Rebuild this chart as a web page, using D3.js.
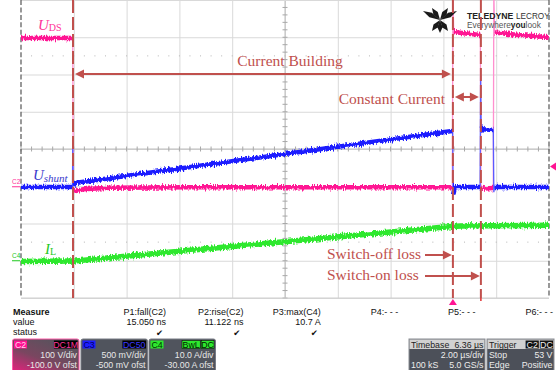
<!DOCTYPE html>
<html>
<head>
<meta charset="utf-8">
<script src="https://cdn.jsdelivr.net/npm/d3@7"></script>
<style>
  html, body { margin: 0; padding: 0; background: #ffffff; }
  svg { display: block; }
</style>
</head>
<body>
<svg id="scope" width="557" height="370"></svg>
<script>
// ---- Acquisition settings ----
const timeDomainUs = [-16.36, 3.64];   // 10 div x 2 µs/div, trigger 6.36 µs right of centre
const usPerDiv = 2;
const hDivs = 10, vDivs = 8;

// Channel vertical settings
const chNames   = ["C2", "C3", "C4"];
const chScale   = [100, 0.5, 10];       // units per division
const chOffset  = [-100, -0.5, -30];    // offset (centre value = -offset)
const chColors  = ["#ff1493", "#1e1eff", "#2ee82e"];
const chEdge    = ["#ff8fcf", "#5a5aff", "#7cf07c"];
const chDivText = ["100 V/div", "500 mV/div", "10.0 A/div"];
const chOfsText = ["-100.0 V ofst", "-500 mV ofst", "-30.00 A ofst"];
const chCoupling = [["DC1M"], ["DC50"], ["BwL", "DC"]];

// U_DS on C2 (V)
const udsTime = [-16.36, -14.40, -14.38, -14.00, -13.00, -10.00, -0.02, 0.00, 0.03, 0.50, 1.04, 1.06, 1.20, 1.53, 1.55, 1.58, 2.50, 3.64];
const udsVolt = [398, 398, -14, -8, -4, -3, -3, 520, 414, 410, 406, -4, -6, -5, 520, 413, 406, 400];

// U_shunt on C3 (V)
const shuntTime = [-16.36, -14.41, -14.40, -14.38, -14.30, -10.34, -6.36, -2.38, -0.03, -0.01, 0.01, 0.07, 1.03, 1.05, 1.07, 1.15, 1.53, 1.55, 1.58, 3.64];
const shuntVolt = [-0.01, -0.01, 0.58, 0.02, 0.045, 0.238, 0.433, 0.627, 0.742, 0.74, -0.11, -0.01, -0.01, 1.49, 0.80, 0.765, 0.755, -0.08, -0.01, -0.01];

// I_L on C4 (A)
const ilTime = [-16.36, -14.36, -12.40, -8.40, -4.40, -0.40, 0.30, 1.50, 3.64];
const ilAmp  = [-0.2, -0.1, 1.2, 3.8, 6.4, 9.0, 9.35, 9.4, 9.5];

// Switching events (µs): turn-on, turn-off, second turn-on
const eventTimes = [-14.39, 0, 1.06];
const triggerLevelV = 53;

// Measurement panel
const measureNames  = ["P1:fall(C2)", "P2:rise(C2)", "P3:max(C4)", "P4:- - -", "P5:- - -", "P6:- - -"];
const measureValues = ["15.050 ns", "11.122 ns", "10.7 A", "", "", ""];
const measureOk     = [true, true, true, false, false, false];

// ---- Layout ----
const svg = d3.select("#scope");
const plot = { left: 21, right: 549, top: 0, bottom: 298 };
const red = "#c0504d";
const serif = "'Liberation Serif', 'Times New Roman', serif";
const sans = "'Liberation Sans', Arial, sans-serif";

const x = d3.scaleLinear().domain(timeDomainUs).range([plot.left, plot.right]);
const yScales = chNames.map((_, i) => {
  const centre = -chOffset[i];
  return d3.scaleLinear()
    .domain([centre - vDivs / 2 * chScale[i], centre + vDivs / 2 * chScale[i]])
    .range([plot.bottom, plot.top]);
});
const yC2 = yScales[0];

const defs = svg.append("defs");
defs.append("clipPath").attr("id", "plotClip")
  .append("rect").attr("x", plot.left).attr("y", plot.top)
  .attr("width", plot.right - plot.left).attr("height", plot.bottom - plot.top);

// trace noise texture (vertical jitter only)
const f = defs.append("filter").attr("id", "jitter")
  .attr("filterUnits", "userSpaceOnUse").attr("x", 0).attr("y", 0).attr("width", 557).attr("height", 300);
f.append("feTurbulence").attr("type", "fractalNoise").attr("baseFrequency", "0.9 0.2")
  .attr("numOctaves", 2).attr("seed", 7).attr("result", "t");
f.append("feColorMatrix").attr("in", "t").attr("type", "matrix")
  .attr("values", "0 0 0 0 0.5  0 1 0 0 0  0 0 0 0 0  0 0 0 0 1").attr("result", "m");
f.append("feDisplacementMap").attr("in", "SourceGraphic").attr("in2", "m")
  .attr("scale", 6).attr("xChannelSelector", "R").attr("yChannelSelector", "G");

// ---- Grid ----
const grid = svg.append("g");
const divTimes = d3.range(hDivs + 1).map(i => timeDomainUs[0] + i * usPerDiv);
const c2Centre = -chOffset[0];
const divLevels = d3.range(vDivs + 1).map(i => c2Centre - vDivs / 2 * chScale[0] + i * chScale[0]);

const gx = grid.append("g").attr("transform", `translate(0,${plot.bottom})`)
  .call(d3.axisBottom(x).tickValues(divTimes.slice(1, -1)).tickSize(-(plot.bottom - plot.top)).tickFormat(""));
gx.select(".domain").remove();
gx.selectAll(".tick line").attr("stroke", "#d9d9d9").attr("stroke-width", 1);

const gy = grid.append("g").attr("transform", `translate(${plot.left},0)`)
  .call(d3.axisLeft(yC2).tickValues(divLevels).tickSize(-(plot.right - plot.left)).tickFormat(""));
gy.select(".domain").remove();
gy.selectAll(".tick line").attr("stroke", "#d9d9d9").attr("stroke-width", 1);

// minor ticks on the centre cross
const centreT = (timeDomainUs[0] + timeDomainUs[1]) / 2;
const minorTimes = d3.range(hDivs * 5 + 1).map(i => timeDomainUs[0] + i * usPerDiv / 5);
const minorLevels = d3.range(vDivs * 5 + 1).map(i => c2Centre - vDivs / 2 * chScale[0] + i * chScale[0] / 5);
const yc = yC2(c2Centre), xc = x(centreT);
grid.append("line").attr("x1", plot.left).attr("x2", plot.right).attr("y1", yc).attr("y2", yc)
  .attr("stroke", "#bdbdbd");
grid.append("line").attr("x1", xc).attr("x2", xc).attr("y1", plot.top).attr("y2", plot.bottom)
  .attr("stroke", "#bdbdbd");
grid.selectAll(".mtx").data(minorTimes).join("line")
  .attr("x1", d => x(d)).attr("x2", d => x(d)).attr("y1", yc - 2.5).attr("y2", yc + 2.5)
  .attr("stroke", "#a8a8a8");
grid.selectAll(".mty").data(minorLevels).join("line")
  .attr("y1", d => yC2(d)).attr("y2", d => yC2(d)).attr("x1", xc - 2.5).attr("x2", xc + 2.5)
  .attr("stroke", "#a8a8a8");

// dotted guide rows at +/- 2.5 div
[c2Centre + 2.5 * chScale[0], c2Centre - 2.5 * chScale[0]].forEach(v => {
  grid.selectAll(null).data(minorTimes.slice(1, -1)).join("rect")
    .attr("x", d => x(d) - 0.5).attr("y", yC2(v) - 0.5).attr("width", 1).attr("height", 1)
    .attr("fill", "#b5b5b5");
});

// frame
grid.append("line").attr("x1", plot.left).attr("x2", plot.right).attr("y1", plot.top + 0.5).attr("y2", plot.top + 0.5).attr("stroke", "#d9d9d9");
grid.append("line").attr("x1", plot.left).attr("x2", plot.right).attr("y1", plot.bottom).attr("y2", plot.bottom).attr("stroke", "#cfcfcf");
[plot.left, plot.right].forEach(px => {
  grid.append("line").attr("x1", px).attr("x2", px).attr("y1", plot.top).attr("y2", plot.bottom)
    .attr("stroke", "#555").attr("stroke-width", 1.2).attr("stroke-dasharray", "5,2.45");
});

// ---- Traces ----
const traces = svg.append("g").attr("clip-path", "url(#plotClip)");
function drawTrace(times, values, ch, width) {
  const yS = yScales[ch];
  const pts = d3.zip(times, values);
  const line = d3.line().x(d => x(d[0])).y(d => yS(d[1]));
  const g = traces.append("g");
  g.append("path").attr("d", line(pts)).attr("fill", "none")
    .attr("stroke", chEdge[ch]).attr("stroke-width", 1.3);
  // slow (non-edge) stretches drawn as the thick noisy band
  const runs = [];
  let cur = [pts[0]];
  for (let i = 1; i < pts.length; i++) {
    if (pts[i][0] - pts[i - 1][0] >= 0.045) cur.push(pts[i]);
    else { if (cur.length > 1) runs.push(cur); cur = [pts[i]]; }
  }
  if (cur.length > 1) runs.push(cur);
  runs.forEach(r => g.append("path").attr("d", line(r)).attr("fill", "none")
    .attr("stroke", chColors[ch]).attr("stroke-width", width)
    .attr("filter", "url(#jitter)"));
}
drawTrace(ilTime, ilAmp, 2, 5.5);
drawTrace(udsTime, udsVolt, 0, 4.5);
drawTrace(shuntTime, shuntVolt, 1, 4.5);

// ---- Trace labels ----
const lab = svg.append("g").attr("font-family", serif);
const tUds = lab.append("text").attr("x", 38).attr("y", 30).attr("fill", "#ff3399");
tUds.append("tspan").attr("font-style", "italic").attr("font-size", 15).text("U");
tUds.append("tspan").attr("font-size", 10).attr("dy", 1).text("DS");

const tSh = lab.append("text").attr("x", 33).attr("y", 180).attr("fill", "#3a3acc");
tSh.append("tspan").attr("font-style", "italic").attr("font-size", 15).text("U");
tSh.append("tspan").attr("font-style", "italic").attr("font-size", 11).attr("dy", 2).text("shunt");

const tIl = lab.append("text").attr("x", 45).attr("y", 254).attr("fill", "#1ec81e");
tIl.append("tspan").attr("font-style", "italic").attr("font-size", 15).text("I");
tIl.append("tspan").attr("font-size", 10).attr("dy", 1).text("L");

// ground markers
const gm = svg.append("g").attr("font-family", sans).attr("font-size", 6.5);
gm.append("text").attr("x", 12).attr("y", yScales[0](0) - 2).attr("fill", "#ff3399").text("C2");
gm.append("line").attr("x1", 12).attr("x2", 20).attr("y1", yScales[0](0) + 0.5).attr("y2", yScales[0](0) + 0.5).attr("stroke", "#ff3399");
gm.append("text").attr("x", 12).attr("y", yScales[2](0) - 3).attr("fill", "#1ec81e").text("C4");
gm.append("line").attr("x1", 12).attr("x2", 20).attr("y1", yScales[2](0)).attr("y2", yScales[2](0)).attr("stroke", "#1ec81e");

// trigger level and position markers
const yTrig = yC2(triggerLevelV);
svg.append("path").attr("d", `M550,${yTrig} L556,${yTrig - 4} L556,${yTrig + 4} Z`).attr("fill", "#ff1493");
const xTrig = x(0);
svg.append("path").attr("d", `M${xTrig},${plot.bottom + 1} L${xTrig - 4},${plot.bottom + 7} L${xTrig + 4},${plot.bottom + 7} Z`).attr("fill", "#ff1493");
svg.append("line").attr("x1", x(eventTimes[2])).attr("x2", x(eventTimes[2]))
  .attr("y1", plot.bottom).attr("y2", plot.bottom + 3).attr("stroke", "#e03030").attr("stroke-width", 1.5);

// ---- Logo ----
const logo = svg.append("g");
const cx = 440, cy = 20;
[[423, 11], [432, 8], [448, 8], [457, 11], [440, 33], [432, 31], [448, 31]].forEach(([ex, ey]) => {
  const dx = ex - cx, dy = ey - cy, len = Math.hypot(dx, dy);
  const nx = -dy / len * 2.6, ny = dx / len * 2.6;
  logo.append("path")
    .attr("d", `M${cx},${cy} L${cx + dx * 0.55 + nx},${cy + dy * 0.55 + ny} L${ex},${ey} L${cx + dx * 0.55 - nx},${cy + dy * 0.55 - ny} Z`)
    .attr("fill", "#1a1a1a");
});
logo.append("text").attr("x", 467).attr("y", 19).attr("font-family", sans).attr("font-size", 8.7)
  .attr("font-weight", "bold").attr("fill", "#222").text("TELEDYNE");
logo.append("text").attr("x", 516).attr("y", 19).attr("font-family", sans).attr("font-size", 8.2)
  .attr("fill", "#333").text("LECROY");
const ls = logo.append("text").attr("x", 467).attr("y", 28).attr("font-family", sans).attr("font-size", 8.3)
  .attr("fill", "#555");
ls.append("tspan").text("Everywhere");
ls.append("tspan").attr("font-weight", "bold").attr("fill", "#222").text("you");
ls.append("tspan").text("look");

// ---- Annotations ----
const ann = svg.append("g");
const xOn = x(eventTimes[0]), xOff = x(eventTimes[1]), xOn2 = x(eventTimes[2]);
eventTimes.forEach(t => {
  ann.append("line").attr("x1", x(t)).attr("x2", x(t)).attr("y1", plot.top).attr("y2", plot.bottom)
    .attr("stroke", red).attr("stroke-width", 2).attr("stroke-dasharray", "13,4");
});
function head(xTip, y, dir) {
  ann.append("path").attr("d", `M${xTip},${y} L${xTip - dir * 9},${y - 4.5} L${xTip - dir * 9},${y + 4.5} Z`).attr("fill", red);
}
function hArrow(xa, xb, y, leftHead, rightHead) {
  ann.append("line").attr("x1", xa + (leftHead ? 6 : 0)).attr("x2", xb - (rightHead ? 6 : 0))
    .attr("y1", y).attr("y2", y).attr("stroke", red).attr("stroke-width", 2);
  if (leftHead) head(xa, y, -1);
  if (rightHead) head(xb, y, 1);
}
hArrow(xOn + 2, xOff - 2, 74, true, true);
hArrow(xOff + 2, xOn2 - 2, 97, true, true);
hArrow(425, xOff - 1, 255, false, true);
hArrow(425, xOn2 - 1, 276, false, true);

const at = ann.append("g").attr("font-family", serif).attr("font-size", 15.5).attr("fill", red);
at.append("text").attr("x", 290).attr("y", 66).attr("text-anchor", "middle").text("Current Building");
at.append("text").attr("x", 445).attr("y", 104).attr("text-anchor", "end").text("Constant Current");
at.append("text").attr("x", 327).attr("y", 259).text("Switch-off loss");
at.append("text").attr("x", 327).attr("y", 280).text("Switch-on loss");

// ---- Measurement panel ----
const mp = svg.append("g").attr("font-family", sans).attr("font-size", 9).attr("fill", "#111");
mp.append("text").attr("x", 13).attr("y", 315).attr("font-weight", "bold").text("Measure");
mp.append("text").attr("x", 13).attr("y", 325).text("value");
mp.append("text").attr("x", 13).attr("y", 335).text("status");
measureNames.forEach((n, i) => {
  const xr = 166 + i * 77.4;
  mp.append("text").attr("x", xr).attr("y", 315).attr("text-anchor", "end").text(n);
  if (measureValues[i]) mp.append("text").attr("x", xr).attr("y", 325).attr("text-anchor", "end").text(measureValues[i]);
  if (measureOk[i]) mp.append("text").attr("x", xr - 3).attr("y", 336).attr("text-anchor", "end")
    .attr("font-family", "'DejaVu Sans', sans-serif").attr("font-size", 8.5).text("\u2714");
});

// channel descriptor boxes
const boxG = svg.append("g").attr("font-family", sans).attr("font-size", 8.8);
const grad = defs.append("linearGradient").attr("id", "c2sel").attr("x1", 0).attr("y1", 1).attr("x2", 0.8).attr("y2", 0);
grad.append("stop").attr("offset", "0%").attr("stop-color", "#e8207e");
grad.append("stop").attr("offset", "45%").attr("stop-color", "#7a4660");
grad.append("stop").attr("offset", "100%").attr("stop-color", "#52555c");
const boxX = [12.5, 81, 149];
const boxW = 66.5;
const badgeFill = ["#ff1493", "#1e1eff", "#2ee82e"];
const badgeText = ["#ffd6ec", "#00006a", "#003300"];
const couplingFill = [["#000"], ["#000"], ["#2ee82e", "#2ee82e"]];
const couplingText = [["#ff3399"], ["#3b3bff"], ["#002200", "#002200"]];
chNames.forEach((name, i) => {
  const bx = boxX[i];
  boxG.append("rect").attr("x", bx).attr("y", 339).attr("width", boxW).attr("height", 33).attr("rx", 2)
    .attr("fill", i === 0 ? "url(#c2sel)" : "#50545d")
    .attr("stroke", i === 0 ? "#ff5aa8" : "#777b84").attr("stroke-width", 1);
  boxG.append("rect").attr("x", bx + 1.5).attr("y", 340.5).attr("width", 13).attr("height", 8).attr("fill", badgeFill[i]);
  boxG.append("text").attr("x", bx + 8).attr("y", 347.5).attr("text-anchor", "middle").attr("fill", badgeText[i]).text(name);
  let xr = bx + boxW - 1.5;
  chCoupling[i].slice().reverse().forEach((c, k) => {
    const idx = chCoupling[i].length - 1 - k;
    const w = c.length * 5.4 + 2;
    boxG.append("rect").attr("x", xr - w).attr("y", 340.5).attr("width", w).attr("height", 8)
      .attr("fill", couplingFill[i][idx]).attr("stroke", i === 2 ? "#000" : "none").attr("stroke-width", 0.5);
    boxG.append("text").attr("x", xr - w / 2).attr("y", 347.5).attr("text-anchor", "middle")
      .attr("fill", couplingText[i][idx]).text(c);
    xr -= w + 1;
  });
  boxG.append("text").attr("x", bx + boxW - 2).attr("y", 358).attr("text-anchor", "end").attr("fill", "#e8e8e8").text(chDivText[i]);
  boxG.append("text").attr("x", bx + boxW - 2).attr("y", 368).attr("text-anchor", "end").attr("fill", "#e8e8e8").text(chOfsText[i]);
});

// timebase / trigger boxes
function infoBox(bx, w, title, titleRight, rows, badges) {
  boxG.append("rect").attr("x", bx).attr("y", 339).attr("width", w).attr("height", 33).attr("fill", "#4c5059").attr("stroke", "#8a8d93");
  boxG.append("rect").attr("x", bx + 0.5).attr("y", 339.5).attr("width", w - 1).attr("height", 9.5).attr("fill", "#d2d2d2");
  boxG.append("text").attr("x", bx + 2).attr("y", 347.5).attr("fill", "#222").text(title);
  if (titleRight) boxG.append("text").attr("x", bx + w - 1.5).attr("y", 347.5).attr("text-anchor", "end").attr("fill", "#222").text(titleRight);
  if (badges) {
    let xr = bx + w - 1;
    badges.slice().reverse().forEach(b => {
      const bw = b.length * 5.6 + 2;
      boxG.append("rect").attr("x", xr - bw).attr("y", 340.5).attr("width", bw).attr("height", 8).attr("fill", "#111");
      boxG.append("text").attr("x", xr - bw / 2).attr("y", 347.5).attr("text-anchor", "middle").attr("fill", "#eee").text(b);
      xr -= bw + 1;
    });
  }
  rows.forEach((r, k) => {
    const y = 358 + k * 10;
    if (r[0]) boxG.append("text").attr("x", bx + 2).attr("y", y).attr("fill", "#ececec").text(r[0]);
    if (r[1]) boxG.append("text").attr("x", bx + w - 1.5).attr("y", y).attr("text-anchor", "end").attr("fill", "#ececec").text(r[1]);
  });
}
infoBox(409, 76, "Timebase", "6.36 µs", [["", "2.00 µs/div"], ["100 kS", "5.0 GS/s"]]);
infoBox(487, 67, "Trigger", null, [["Stop", "53 V"], ["Edge", "Positive"]], ["C2", "DC"]);
</script>
</body>
</html>
